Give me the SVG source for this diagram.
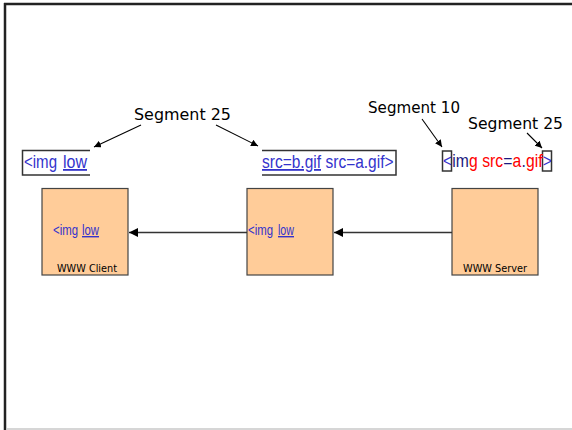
<svg xmlns="http://www.w3.org/2000/svg" width="572" height="430" viewBox="0 0 572 430">
<style>
.node{fill:#FFCC99;stroke:#444;stroke-width:1.2}
.tb{fill:none;stroke:#333;stroke-width:1.5}
.code{font-family:"Liberation Sans",Arial,sans-serif;fill:#3333CC}
.big{font-size:18px}
.small{font-size:14px}
.u{text-decoration:underline}
.nv{fill:#1a1a80}
.rd{fill:#FF0000}
.seg{font-family:"DejaVu Sans",sans-serif;font-size:15px;fill:#000}
.lbl{font-family:"DejaVu Sans",sans-serif;font-size:10px;fill:#000}
.conn{stroke:#333;stroke-width:1.5;fill:none}
.ptr{stroke:#000;stroke-width:1.1;fill:none}
</style>
<defs>
<marker id="ah" viewBox="0 0 10 10" refX="10" refY="5" markerWidth="7" markerHeight="7" orient="auto" markerUnits="userSpaceOnUse">
<path d="M0,0 L10,5 L0,10 z" fill="#000"/>
</marker>
<marker id="ah2" viewBox="0 0 10 10" refX="10" refY="5" markerWidth="9" markerHeight="9" orient="auto" markerUnits="userSpaceOnUse">
<path d="M0,0 L10,5 L0,10 z" fill="#000"/>
</marker>
</defs>
<rect width="572" height="430" fill="#fff"/>
<g id="frame">
<line x1="4" y1="4" x2="572" y2="4" stroke="#222" stroke-width="2.5"/>
<line x1="5" y1="3" x2="5" y2="430" stroke="#222" stroke-width="2.5"/>
<line x1="6" y1="429" x2="572" y2="429" stroke="#c8c8c8" stroke-width="1.5"/>
</g>
<g id="segments">
<text class="seg" x="134" y="120" textLength="97" lengthAdjust="spacingAndGlyphs">Segment 25</text>
<text class="seg" x="368" y="113" textLength="92" lengthAdjust="spacingAndGlyphs">Segment 10</text>
<text class="seg" x="468" y="129" textLength="95" lengthAdjust="spacingAndGlyphs">Segment 25</text>
</g>
<g id="text-left">
<polyline class="tb" points="90,150.5 22.5,150.5 22.5,175 90,175"/>
<text class="code big" x="24" y="168" textLength="33" lengthAdjust="spacingAndGlyphs">&lt;img</text>
<text class="code big u" x="63" y="168" textLength="24" lengthAdjust="spacingAndGlyphs">low</text>
</g>
<g id="text-middle">
<polyline class="tb" points="262,150.5 396,150.5 396,175 262,175"/>
<text class="code big u" x="262" y="168" textLength="59" lengthAdjust="spacingAndGlyphs">src=b.gif</text>
<text class="code big" x="325.5" y="168" textLength="68" lengthAdjust="spacingAndGlyphs">src=a.gif&gt;</text>
</g>
<g id="text-right">
<rect class="tb" x="442.5" y="151" width="9" height="20"/>
<rect class="tb" x="542.5" y="151" width="9" height="20"/>
<g transform="translate(443,167) scale(0.872,1)">
<text class="code big" x="0" y="0">&lt;</text>
<text class="code big nv" x="10.6" y="0">im</text>
<text class="code big rd" x="29.8" y="0">g</text>
<text class="code big rd" x="45" y="0">src</text>
<text class="code big nv" x="69.2" y="0">=</text>
<text class="code big rd" x="79.8" y="0">a</text>
<text class="code big nv" x="90" y="0">.</text>
<text class="code big rd" x="95.2" y="0">gif</text>
<text class="code big" x="114.5" y="0">&gt;</text>
</g>
</g>
<g id="client">
<rect class="node" x="42" y="188.5" width="86" height="86.5"/>
<text class="code small" x="53" y="235" textLength="25" lengthAdjust="spacingAndGlyphs">&lt;img</text>
<text class="code small u" x="82" y="235" textLength="17" lengthAdjust="spacingAndGlyphs">low</text>
<text class="lbl" x="57" y="272" textLength="60" lengthAdjust="spacingAndGlyphs">WWW Client</text>
</g>
<g id="proxy">
<rect class="node" x="247" y="188.5" width="86" height="86.5"/>
<text class="code small" x="248" y="235" textLength="25" lengthAdjust="spacingAndGlyphs">&lt;img</text>
<text class="code small u" x="278" y="235" textLength="16" lengthAdjust="spacingAndGlyphs">low</text>
</g>
<g id="server">
<rect class="node" x="452" y="188.5" width="86" height="86.5"/>
<text class="lbl" x="463" y="272" textLength="64" lengthAdjust="spacingAndGlyphs">WWW Server</text>
</g>
<g id="connectors">
<line class="conn" x1="247" y1="232.5" x2="129" y2="232.5" marker-end="url(#ah2)"/>
<line class="conn" x1="452" y1="232.5" x2="334" y2="232.5" marker-end="url(#ah2)"/>
<line class="ptr" x1="141" y1="125" x2="94" y2="147" marker-end="url(#ah)"/>
<line class="ptr" x1="216" y1="125" x2="258" y2="146" marker-end="url(#ah)"/>
<line class="ptr" x1="422" y1="119" x2="442" y2="147" marker-end="url(#ah)"/>
<line class="ptr" x1="527" y1="133" x2="542" y2="148" marker-end="url(#ah)"/>
</g>
</svg>
